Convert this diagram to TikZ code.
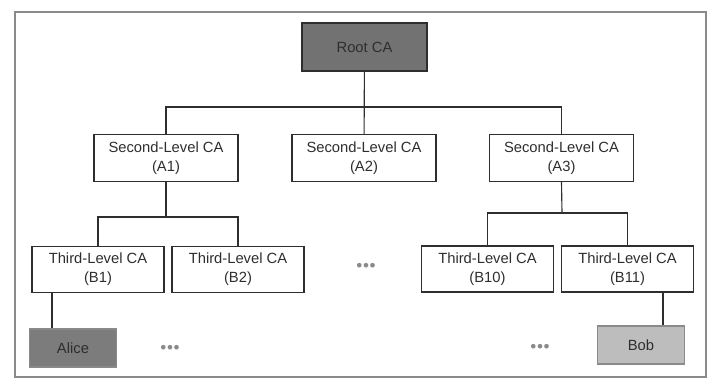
\documentclass[tikz,border=0pt]{standalone}
\usepackage{fontspec}
\setmainfont{Liberation Sans}
\usepackage{tikz}
\usetikzlibrary{positioning,calc}

\definecolor{inkgray}{HTML}{2E2E2E}
\definecolor{framegray}{HTML}{8A8A8A}
\definecolor{rootgray}{HTML}{727272}
\definecolor{alicegray}{HTML}{7C7C7C}
\definecolor{bobgray}{HTML}{BDBDBD}

\begin{document}
\begin{tikzpicture}[
  x=0.025cm, y=-0.025cm,
  font=\fontsize{10.5}{13.5}\selectfont, text=inkgray,
  cabox/.style={draw=inkgray, line width=0.8pt, align=center, minimum width=3.6cm, minimum height=1.175cm, inner sep=1pt},
  leafbox/.style={cabox, minimum width=3.3cm, minimum height=1.15cm},
  userbox/.style={draw=framegray, line width=0.8pt, minimum width=2.18cm, minimum height=0.95cm},
  link/.style={draw=inkgray, line width=0.8pt},
  dots/.style={font=\fontsize{8}{8}\selectfont, text=framegray}
]
\useasboundingbox (0,0) rectangle (710,379);
\draw[framegray, line width=1.3pt] (15,12) rectangle (706,377);

\node[cabox, fill=rootgray, minimum width=3.125cm, minimum height=1.2cm] (root) at (364.5,47) {Root CA};

\node[cabox] (A1) at (166,158) {Second-Level CA\\(A1)};
\node[cabox] (A2) at (364,158) {Second-Level CA\\(A2)};
\node[cabox] (A3) at (561.5,158) {Second-Level CA\\(A3)};

\node[leafbox] (B1) at (98,269.5) {Third-Level CA\\(B1)};
\node[leafbox] (B2) at (238,269.5) {Third-Level CA\\(B2)};
\node[dots] (dotsB) at (366,266) {$\bullet\!\bullet\!\bullet$};
\node[leafbox] (B10) at (487.5,269) {Third-Level CA\\(B10)};
\node[leafbox] (B11) at (627.5,269) {Third-Level CA\\(B11)};

\node[userbox, fill=alicegray] (Alice) at (73,348) {Alice};
\node[dots] (dotsL) at (170,348) {$\bullet\!\bullet\!\bullet$};
\node[dots] (dotsR) at (540,347) {$\bullet\!\bullet\!\bullet$};
\node[userbox, fill=bobgray] (Bob) at (641,345) {Bob};

% buses
\coordinate (busR) at (364,107);
\coordinate (busA1) at (166,217);
\coordinate (busA3) at (562,213);
\coordinate (aliceTap) at (52,0);
\coordinate (bobTap) at (663,0);

\draw[link] (root) -- (A2);
\draw[link] (A1.north) |- (busR) -| (A3.north);
\draw[link] (A1.south) -- (busA1);
\draw[link] (B1.north) |- (busA1) -| (B2.north);
\draw[link] (A3.south) -- (busA3);
\draw[link] (B10.north) |- (busA3) -| (B11.north);
\draw[link] (B1.south -| aliceTap) -- (Alice.north -| aliceTap);
\draw[link] (B11.south -| bobTap) -- (Bob.north -| bobTap);
\end{tikzpicture}
\end{document}
